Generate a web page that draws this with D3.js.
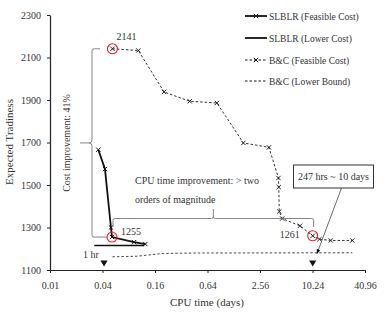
<!DOCTYPE html>
<html>
<head>
<meta charset="utf-8">
<script src="https://cdn.jsdelivr.net/npm/d3@7"></script>
<style>
  body { margin: 0; background: #fff; }
  svg text { font-family: "Liberation Serif", "DejaVu Serif", serif; }
</style>
</head>
<body>
<div id="chart"></div>
<script>
// CPU time in days, expected tardiness
const slblrFeasDays = [0.0358, 0.0427, 0.050, 0.0514, 0.092, 0.124];
const slblrFeasCost = [1666, 1575, 1300, 1255, 1231, 1222];
const slblrLowDays = [0.0322, 0.12];
const slblrLowCost = [1215, 1215];
const bcFeasDays = [0.052, 0.103, 0.203, 0.40, 0.82, 1.65, 3.24, 4.17, 4.2, 4.26, 4.6, 7.35, 10.29, 12.3, 16.6, 29.3];
const bcFeasCost = [2141, 2133, 1938, 1894, 1886, 1698, 1677, 1533, 1490, 1375, 1342, 1308, 1261, 1245, 1239, 1239];
const bcLowDays = [0.052, 0.1, 0.2, 0.5, 29.3];
const bcLowCost = [1162, 1165, 1178, 1180, 1181];
const xTicks = [0.01, 0.04, 0.16, 0.64, 2.56, 10.24, 40.96];
const yTicks = [1100, 1300, 1500, 1700, 1900, 2100, 2300];
const legendNames = ["SLBLR (Feasible Cost)", "SLBLR (Lower Cost)", "B&C (Feasible Cost)", "B&C (Lower Bound)"];

const width = 389, height = 314;
const serif = "Liberation Serif";

const svg = d3.select("#chart").append("svg")
    .attr("width", width)
    .attr("height", height);

const x = d3.scaleLog().base(4).domain([0.01, 40.96]).range([50, 365]);
const y = d3.scaleLinear().domain([1100, 2300]).range([270, 15]);

const zip = (xs, ys) => xs.map((d, i) => [d, ys[i]]);
const line = d3.line().x(d => x(d[0])).y(d => y(d[1]));

// axes
const xAxis = svg.append("g")
    .attr("transform", "translate(0,270)")
    .call(d3.axisBottom(x).tickValues(xTicks).tickFormat(d => String(+d.toFixed(2))).tickSize(3).tickSizeOuter(0));
const yAxis = svg.append("g")
    .attr("transform", "translate(50,0)")
    .call(d3.axisLeft(y).tickValues(yTicks).tickFormat(d3.format("d")).tickSize(3).tickSizeOuter(0));
[xAxis, yAxis].forEach(a => {
  a.attr("font-family", serif);
  a.select(".domain").attr("stroke", "#222").attr("stroke-width", 1.2);
  a.selectAll(".tick line").attr("stroke", "#222");
  a.selectAll(".tick text").attr("fill", "#333").style("font-size", "10px");
});
xAxis.selectAll(".tick text").attr("dy", "1.3em");
yAxis.selectAll(".tick text").attr("x", -9);

svg.append("text")
    .attr("x", 207).attr("y", 306)
    .attr("text-anchor", "middle")
    .attr("fill", "#333")
    .style("font-size", "11px")
    .text("CPU time (days)");
svg.append("text")
    .attr("transform", "translate(13,142) rotate(-90)")
    .attr("text-anchor", "middle")
    .attr("fill", "#333")
    .style("font-size", "11px")
    .text("Expected Tradiness");

// series
const cross = d3.symbol().type(d3.symbolX).size(14);

function drawMarkers(data, color) {
  svg.append("g").selectAll("path")
    .data(data)
    .join("path")
      .attr("transform", d => `translate(${x(d[0])},${y(d[1])})`)
      .attr("d", cross)
      .attr("fill", "none")
      .attr("stroke", color)
      .attr("stroke-width", 1);
}

svg.append("path")
    .datum(zip(bcLowDays, bcLowCost))
    .attr("d", line)
    .attr("fill", "none")
    .attr("stroke", "#333")
    .attr("stroke-width", 0.9)
    .attr("stroke-dasharray", "2.5,2");

svg.append("path")
    .datum(zip(bcFeasDays, bcFeasCost))
    .attr("d", line)
    .attr("fill", "none")
    .attr("stroke", "#333")
    .attr("stroke-width", 1)
    .attr("stroke-dasharray", "2.5,2");
drawMarkers(zip(bcFeasDays, bcFeasCost), "#222");

svg.append("path")
    .datum(zip(slblrLowDays, slblrLowCost))
    .attr("d", line)
    .attr("fill", "none")
    .attr("stroke", "#111")
    .attr("stroke-width", 1.6);

svg.append("path")
    .datum(zip(slblrFeasDays, slblrFeasCost))
    .attr("d", line)
    .attr("fill", "none")
    .attr("stroke", "#111")
    .attr("stroke-width", 1.8);
drawMarkers(zip(slblrFeasDays, slblrFeasCost), "#111");

// red circles on best values
const highlights = [[bcFeasDays[0], bcFeasCost[0]], [slblrFeasDays[3], slblrFeasCost[3]], [bcFeasDays[12], bcFeasCost[12]]];
svg.append("g").selectAll("circle")
  .data(highlights)
  .join("circle")
    .attr("cx", d => x(d[0]))
    .attr("cy", d => y(d[1]))
    .attr("r", 5)
    .attr("fill", "none")
    .attr("stroke", "#e8202a")
    .attr("stroke-width", 1.1);

const ann = svg.append("g").attr("fill", "#333").style("font-size", "10px");
ann.append("text").attr("x", x(bcFeasDays[0]) + 4).attr("y", y(bcFeasCost[0]) - 9).text(bcFeasCost[0]);
ann.append("text").attr("x", x(slblrFeasDays[3]) + 9).attr("y", y(slblrFeasCost[3]) - 2).text(slblrFeasCost[3]);
ann.append("text").attr("x", x(bcFeasDays[12]) - 13).attr("y", y(bcFeasCost[12]) + 2).attr("text-anchor", "end").text(bcFeasCost[12]);
ann.append("text").attr("x", 83).attr("y", 258).text("1 hr");

// cost improvement brace
const bx = 92, yTop = y(bcFeasCost[0]), yBot = y(slblrFeasCost[3]), yMid = (yTop + yBot) / 2;
svg.append("path")
    .attr("d", `M100,${yTop} H94 Q${bx},${yTop} ${bx},${yTop + 2} V${yMid - 3} Q${bx},${yMid} ${bx - 3},${yMid} H80
                M${bx - 3},${yMid} Q${bx},${yMid} ${bx},${yMid + 3} V${yBot - 2} Q${bx},${yBot} 94,${yBot} H108`)
    .attr("fill", "none")
    .attr("stroke", "#777")
    .attr("stroke-width", 0.9);
svg.append("text")
    .attr("transform", `translate(70,${yMid}) rotate(-90)`)
    .attr("text-anchor", "middle")
    .attr("fill", "#333")
    .style("font-size", "10px")
    .text("Cost improvement: 41%");

// CPU time improvement brace
const hx0 = x(slblrFeasDays[3]) + 1, hx1 = x(bcFeasDays[12]) + 1, hy = 218.5, hMid = (hx0 + hx1) / 2;
svg.append("path")
    .attr("d", `M${hx0},227 V${hy + 2} Q${hx0},${hy} ${hx0 + 2},${hy} H${hMid - 2} Q${hMid},${hy} ${hMid},${hy - 2} V209
                M${hMid},${hy - 2} Q${hMid},${hy} ${hMid + 2},${hy} H${hx1 - 2} Q${hx1},${hy} ${hx1},${hy + 2} V227`)
    .attr("fill", "none")
    .attr("stroke", "#777")
    .attr("stroke-width", 0.9);
ann.append("text").attr("x", 135).attr("y", 183.5).text("CPU time improvement: > two");
ann.append("text").attr("x", 135).attr("y", 202.5).text("orders of magnitude");

// triangles marking 1 hr and 247 hrs
svg.append("g").selectAll("path")
  .data([1 / 24, 247 / 24])
  .join("path")
    .attr("transform", d => `translate(${x(d)},262.5) rotate(180)`)
    .attr("d", d3.symbol().type(d3.symbolTriangle).size(22))
    .attr("fill", "#111");

// 247 hrs box with arrow
svg.append("defs").append("marker")
    .attr("id", "arr")
    .attr("viewBox", "0 0 10 10")
    .attr("refX", 9).attr("refY", 5)
    .attr("markerWidth", 6).attr("markerHeight", 6)
    .attr("orient", "auto")
  .append("path")
    .attr("d", "M0,1 L10,5 L0,9 Z")
    .attr("fill", "#111");
svg.append("line")
    .attr("x1", 341.5).attr("y1", 188)
    .attr("x2", 317).attr("y2", 253.5)
    .attr("stroke", "#444")
    .attr("stroke-width", 0.8)
    .attr("marker-end", "url(#arr)");
svg.append("rect")
    .attr("x", 293.5).attr("y", 165)
    .attr("width", 80).attr("height", 23)
    .attr("fill", "#fff")
    .attr("stroke", "#333")
    .attr("stroke-width", 1);
svg.append("text")
    .attr("x", 333.5).attr("y", 180)
    .attr("text-anchor", "middle")
    .attr("fill", "#333")
    .style("font-size", "10px")
    .text("247 hrs ~ 10 days");

// legend
const lg = svg.append("g").attr("transform", "translate(245,0)");
const ly = [16, 38, 60, 81];
legendNames.forEach((name, i) => {
  const g = lg.append("g").attr("transform", `translate(0,${ly[i]})`);
  g.append("line")
      .attr("x1", 0).attr("x2", 22)
      .attr("stroke", "#111")
      .attr("stroke-width", i < 2 ? 1.8 : 1)
      .attr("stroke-dasharray", i < 2 ? null : "2.5,2");
  if (i === 0 || i === 2) {
    g.append("path").attr("transform", "translate(11,0)").attr("d", cross)
      .attr("fill", "none").attr("stroke", "#111").attr("stroke-width", 1);
  }
  g.append("text")
      .attr("x", 24).attr("y", 3.5)
      .attr("fill", "#333")
      .style("font-size", "9.5px")
      .text(name);
});
</script>
</body>
</html>
